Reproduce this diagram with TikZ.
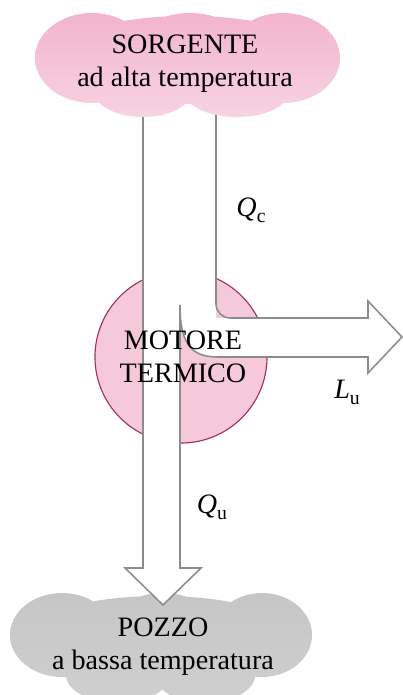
\documentclass[tikz,border=0pt]{standalone}
\usepackage{fontspec}
\setmainfont{Liberation Serif}
\newcommand{\sublab}[1]{\raisebox{-0.45ex}{\fontsize{14}{14}\selectfont #1}}
\definecolor{srcpink}{HTML}{F2B4CD}
\definecolor{srclight}{HTML}{F7D3E2}
\definecolor{engpink}{HTML}{F5C8DA}
\definecolor{engedge}{HTML}{A0305E}
\definecolor{sinkgray}{HTML}{C6C6C6}
\definecolor{sinklight}{HTML}{CFCFCF}
\definecolor{flowgray}{HTML}{8C8C8C}
\begin{document}
\begin{tikzpicture}[x=0.025cm,y=-0.025cm,
    lbl/.style={font=\fontsize{20}{23.5}\selectfont, align=center, inner sep=0pt},
    flow/.style={draw=flowgray, line width=1.1pt, line join=miter}]
  \useasboundingbox (0,0) rectangle (402,695);

  % pozzo (cloud)
  \shade[top color=sinkgray, bottom color=sinklight]
    (62,635) ellipse[x radius=52, y radius=42]
    (163,632) ellipse[x radius=55, y radius=39]
    (262,635) ellipse[x radius=50, y radius=42]
    (118,675) ellipse[x radius=52, y radius=28]
    (205,675) ellipse[x radius=50, y radius=28]
    (160,640) ellipse[x radius=140, y radius=44];

  % motore
  \node[circle, minimum size=4.3cm, fill=engpink, draw=engedge, line width=0.8pt] (eng) at (181,357) {};

  % flussi
  \coordinate (jn) at (180,305);
  \fill[white] (143,110) -- (143,568) -- (125,568) -- (163,605) -- (201,568) -- (180,568) -- (jn)
    .. controls (180,345) and (192,357) .. (218,357) -- (368,357) -- (368,373) -- (402,337)
    -- (368,301) -- (368,318) -- (216,318) -- (216,110) -- cycle;
  \draw[flow] (jn) .. controls (180,345) and (192,357) .. (218,357) -- (368,357) -- (368,373)
    -- (402,337) -- (368,301) -- (368,318) [rounded corners=10pt] -- (216,318) -- (216,110);
  \draw[flow] (143,110) -- (143,568) -- (125,568) -- (163,605) -- (201,568) -- (180,568) -- (jn);

  % sorgente (cloud)
  \shade[top color=srcpink, bottom color=srclight]
    (92,58) ellipse[x radius=57, y radius=45]
    (190,55) ellipse[x radius=60, y radius=42]
    (283,58) ellipse[x radius=57, y radius=45]
    (143,92) ellipse[x radius=48, y radius=25]
    (237,92) ellipse[x radius=52, y radius=25]
    (188,60) ellipse[x radius=140, y radius=44];

  \node[lbl] (src) at (185,64) {SORGENTE\\ad alta temperatura};
  \node[lbl] (snk) at (163,647) {POZZO\\a bassa temperatura};
  \node[lbl] (engtxt) at (183,357) {MOTORE\\TERMICO};
  \node[lbl] (qc) at (251,210) {\textit{Q}\sublab{c}};
  \node[lbl] (lu) at (347,392) {\textit{L}\sublab{u}};
  \node[lbl] (qu) at (212,507) {\textit{Q}\sublab{u}};
\end{tikzpicture}
\end{document}
